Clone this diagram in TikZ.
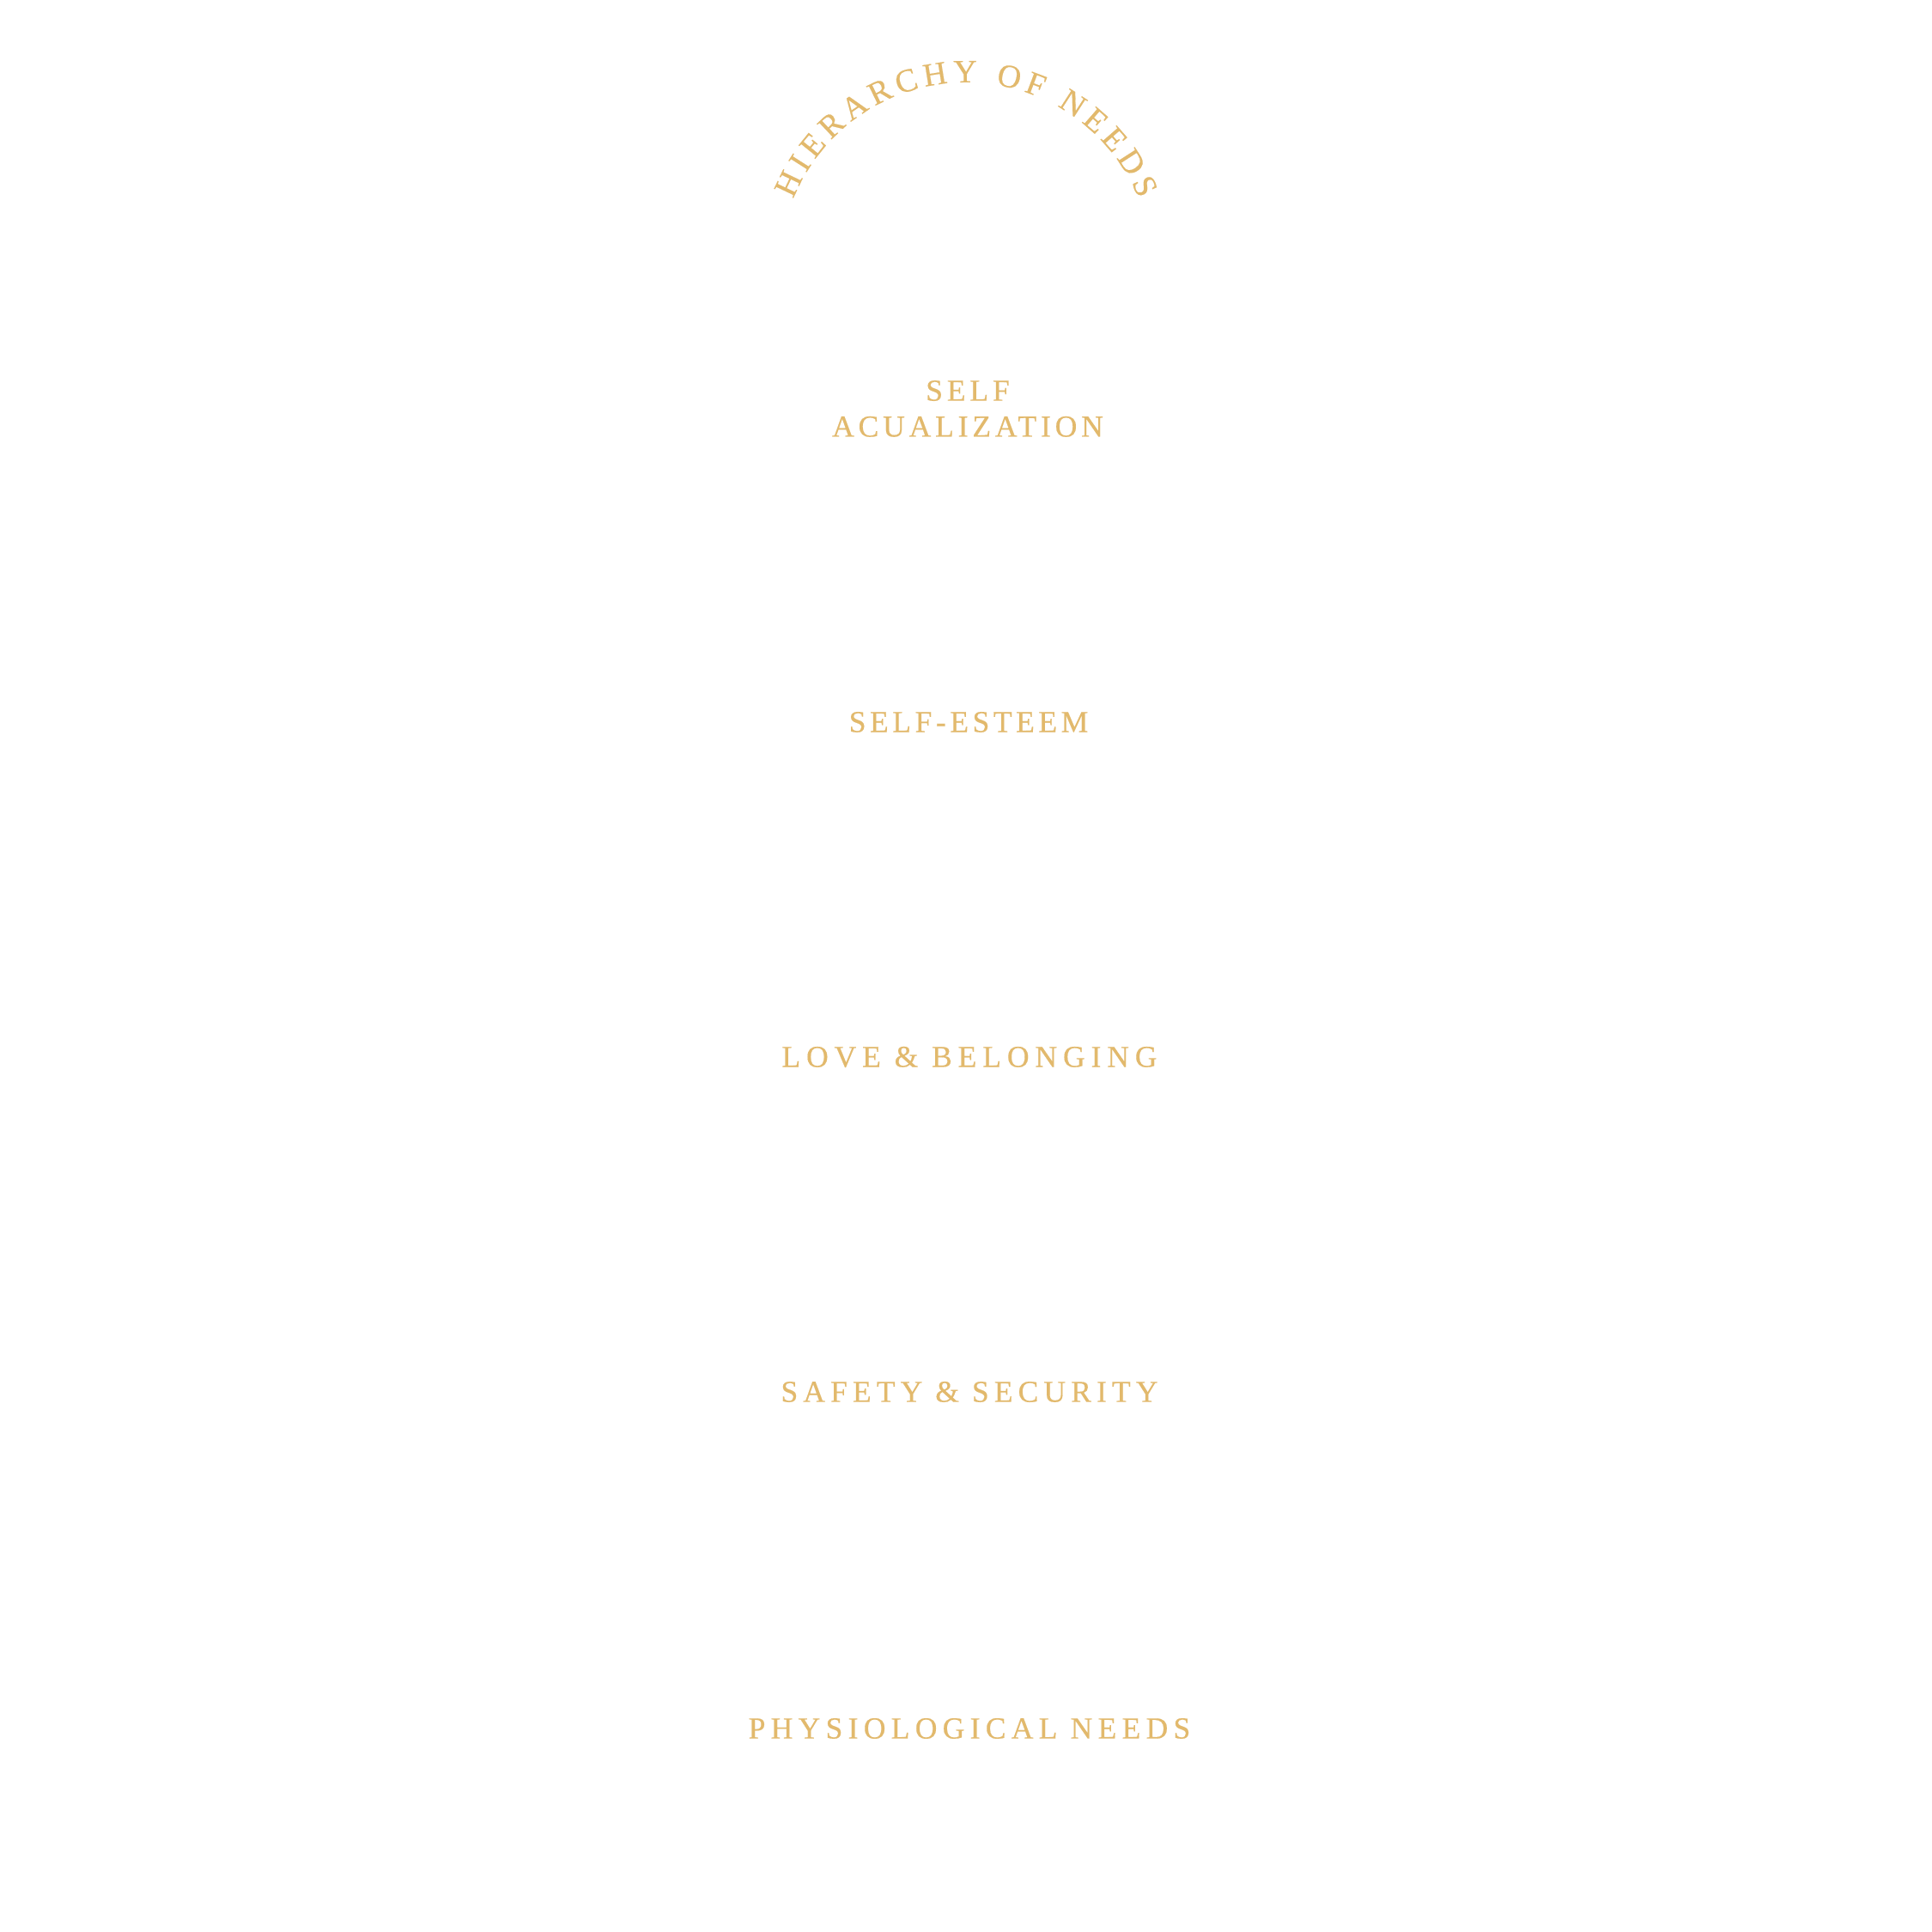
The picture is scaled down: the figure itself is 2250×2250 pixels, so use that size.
\documentclass[tikz,border=0pt]{standalone}
\usepackage{fontspec}
\usetikzlibrary{decorations.text}
\definecolor{needsgold}{RGB}{226,185,108}
\newcommand\titlefont{\fontsize{10.8}{12}\fontspec{Liberation Serif}[FakeBold=0.4]}
\begin{document}
\begin{tikzpicture}[x=0.1mm,y=0.1mm,
  tier/.style={fill=white,draw=none},
  tiertext/.style={text=needsgold,inner sep=0pt,align=center,
    font={\fontsize{10.1}{11.9}\fontspec{Liberation Serif}[LetterSpace=#1,FakeBold=0.4]}},
  tiertext/.default=12]
\useasboundingbox[fill=white] (0,0) rectangle (2250,2250);
% pyramid tiers, white on white
\path[tier] (1124,2098) -- (1319,1708) -- (929,1708) -- cycle;
\path[tier] (894.5,1639) -- (1353.5,1639) -- (1513.5,1319) -- (734.5,1319) -- cycle;
\path[tier] (700,1250) -- (1548,1250) -- (1709,928) -- (539,928) -- cycle;
\path[tier] (504,858) -- (1744,858) -- (1903.5,539) -- (344.5,539) -- cycle;
\path[tier] (309.5,469) -- (1938.5,469) -- (2099,148) -- (149,148) -- cycle;
% labels
\node[tiertext=13.7] (selfact) at (1127,1774) {SELF\\ACUALIZATION};
\node[tiertext=12.9] (esteem) at (1128,1409) {SELF-ESTEEM};
\node[tiertext=19.5] (love) at (1129,1019) {LOVE \& BELONGING};
\node[tiertext=17.3] (safety) at (1129,629) {SAFETY \& SECURITY};
\node[tiertext=17.8] (physio) at (1129,237) {PHYSIOLOGICAL NEEDS};
% title on an arc
\path[decorate,decoration={text along path,text align=fit to path,
    text color=needsgold,text={|\titlefont|HIERARCHY OF NEEDS}}]
  (1125,1937) ++(158:217) arc[start angle=158,end angle=22,radius=217];
\end{tikzpicture}
\end{document}
